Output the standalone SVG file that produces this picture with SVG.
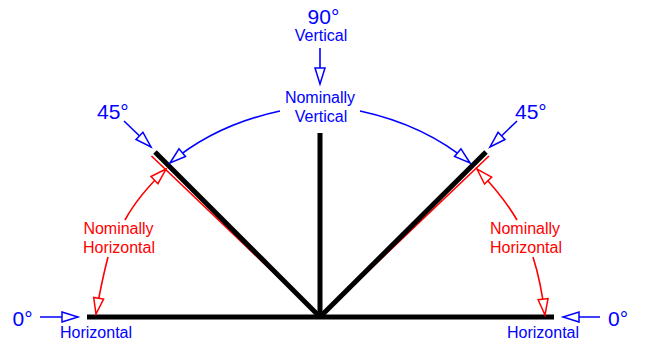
<svg xmlns="http://www.w3.org/2000/svg" width="654" height="346" viewBox="0 0 654 346">
<style>
text{font-family:"Liberation Sans",Arial,sans-serif}
.b{fill:#0000ff}
.r{fill:#ff0000}
.big{font-size:21px}
.sm{font-size:16px}
.bl{stroke:#0000ff;stroke-width:1.6;fill:none}
.rl{stroke:#ff0000;stroke-width:1.6;fill:none}
.k{stroke:#000;stroke-width:5;fill:none}
</style>
<defs>
<marker id="ab" markerUnits="userSpaceOnUse" markerWidth="20" markerHeight="14" refX="17" refY="6" orient="auto" overflow="visible">
<path d="M1,1 L17,6 L1,11 Z" fill="#fff" stroke="#0000ff" stroke-width="1.5"/>
</marker>
<marker id="ar" markerUnits="userSpaceOnUse" markerWidth="20" markerHeight="14" refX="17" refY="6" orient="auto" overflow="visible">
<path d="M1,1 L17,6 L1,11 Z" fill="#fff" stroke="#ff0000" stroke-width="1.5"/>
</marker>
</defs>
<g id="frame">
<line x1="151.5" y1="156" x2="320" y2="317" stroke="#ff0000" stroke-width="1.6"/>
<line x1="489" y1="156" x2="320" y2="317" stroke="#ff0000" stroke-width="1.6"/>
<line class="k" x1="87" y1="317" x2="554" y2="317"/>
<line class="k" x1="320" y1="133" x2="320" y2="317"/>
<line class="k" x1="155" y1="152" x2="320" y2="317"/>
<line class="k" x1="486" y1="152" x2="320" y2="317"/>
</g>
<g id="connectors">
<path class="bl" d="M320,48 L320,84" marker-end="url(#ab)"/>
<path class="bl" d="M124,121 L151,147" marker-end="url(#ab)"/>
<path class="bl" d="M517,121 L490,147" marker-end="url(#ab)"/>
<path class="bl" d="M40,317 L78,317" marker-end="url(#ab)"/>
<path class="bl" d="M600,317 L563,317" marker-end="url(#ab)"/>
<path class="bl" d="M280,111 Q215,125 170,163" marker-end="url(#ab)"/>
<path class="bl" d="M360,111 Q425,125 470,163" marker-end="url(#ab)"/>
<path class="rl" d="M125,220 Q138,196 166,169" marker-end="url(#ar)"/>
<path class="rl" d="M108,257 Q101,284 96,314" marker-end="url(#ar)"/>
<path class="rl" d="M517,220 Q503,196 477,169" marker-end="url(#ar)"/>
<path class="rl" d="M533,257 Q541,282 545,315" marker-end="url(#ar)"/>
</g>
<g id="label-90">
<text class="b big" x="323.5" y="24" text-anchor="middle">90°</text>
<text class="b sm" x="321" y="41" text-anchor="middle">Vertical</text>
</g>
<g id="label-nominally-vertical">
<text class="b sm" x="320" y="103" text-anchor="middle">Nominally</text>
<text class="b sm" x="321" y="122" text-anchor="middle">Vertical</text>
</g>
<g id="label-45-left"><text class="b big" x="97" y="119">45°</text></g>
<g id="label-45-right"><text class="b big" x="515" y="119">45°</text></g>
<g id="label-nh-left">
<text class="r sm" x="118.5" y="234" text-anchor="middle">Nominally</text>
<text class="r sm" x="119" y="253" text-anchor="middle">Horizontal</text>
</g>
<g id="label-nh-right">
<text class="r sm" x="525" y="234" text-anchor="middle">Nominally</text>
<text class="r sm" x="526" y="253" text-anchor="middle">Horizontal</text>
</g>
<g id="label-0-left">
<text class="b big" x="12.5" y="326">0°</text>
<text class="b sm" x="60" y="338">Horizontal</text>
</g>
<g id="label-0-right">
<text class="b big" x="608" y="326">0°</text>
<text class="b sm" x="507" y="338">Horizontal</text>
</g>
</svg>
